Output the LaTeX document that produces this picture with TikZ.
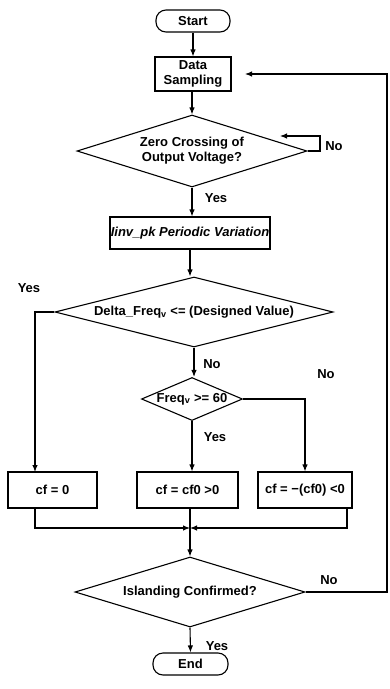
\documentclass[tikz,border=0pt]{standalone}
\usepackage{fontspec}
\setmainfont{Liberation Sans}
\usetikzlibrary{shapes.geometric,arrows.meta}
\begin{document}
\begin{tikzpicture}[x=1pt,y=-1pt,
  every node/.style={font=\bfseries\fontsize{13}{15}\selectfont},
  ln/.style={line width=1.1pt},
  arr/.style={ln,-{Latex[length=7pt,width=5.5pt]}},
  term/.style={draw,ln,rectangle,rounded corners=10pt,minimum width=74pt,minimum height=22pt,inner sep=0pt},
  procbox/.style={draw,ln,rectangle,inner sep=0pt,align=center},
  dec/.style={draw,ln,diamond,inner sep=0pt,align=center},
  lbl/.style={inner sep=0pt}
]
\useasboundingbox (0,0) rectangle (390,689);
\fill[white] (0,0) rectangle (390,689);

% nodes
\node[term] (start) at (193,21) {Start};
\node[procbox,minimum width=76pt,minimum height=34pt] (ds) at (193,74) {Data\\Sampling};
\node[dec,minimum width=230pt,minimum height=72pt,aspect=3.2] (d1) at (192,151) {Zero Crossing of\\Output Voltage?};
\node[procbox,minimum width=160pt,minimum height=32pt] (iinv) at (190,233) {\itshape Iinv\_pk Periodic Variation};
\node[dec,minimum width=278pt,minimum height=70pt,aspect=4] (d2) at (194,312) {Delta\_Freq\textsubscript{v} <= (Designed Value)};
\node[dec,minimum width=101pt,minimum height=43pt,aspect=2.35] (d3) at (192,399) {\makebox[0pt]{Freq\textsubscript{v} >= 60}};
\node[procbox,minimum width=89pt,minimum height=36pt] (b1) at (52.5,490) {cf = 0};
\node[procbox,minimum width=101pt,minimum height=36pt] (b2) at (187.5,490) {cf = cf0 >0};
\node[procbox,minimum width=94pt,minimum height=36pt] (b3) at (305,490) {cf = −(cf0) <0};
\node[dec,minimum width=230pt,minimum height=70pt,aspect=3.3] (d4) at (190,592) {Islanding Confirmed?};
\node[term,minimum width=75pt] (end) at (190.5,664) {End};

% helper coordinates
\coordinate (loopend) at (280,136);
\coordinate (loopx) at (320,151);
\coordinate (leftx) at (35,472);
\coordinate (b3out) at (347,508);
\coordinate (junc) at (190,528);
\coordinate (rightx) at (387,592);
\coordinate (fb) at (245,74);

% labels
\node[lbl] (l1) at (334,146) {No};
\node[lbl] (l2) at (216,198) {Yes};
\node[lbl] (l3) at (29,288) {Yes};
\node[lbl] (l4) at (212,364) {No};
\node[lbl] (l5) at (326,374) {No};
\node[lbl] (l6) at (215,437) {Yes};
\node[lbl] (l7) at (329,580) {No};
\node[lbl] (l8) at (217,646) {Yes};

% connectors
\draw[arr] (start.south) -- (ds.north);
\draw[arr] (ds.south -| d1.north) -- (d1.north);
\draw[arr] (d1.east) -- (loopx) |- (loopend);
\draw[arr] (d1.south) -- (d1.south |- iinv.north);
\draw[arr] (iinv.south) -- (iinv.south |- d2.north);
\draw[arr] (d2.west) -| (leftx);
\draw[arr] (d2.south) -- (d2.south |- d3.north);
\draw[arr] (d3.south) -- (d3.south |- b2.north);
\draw[arr] (d3.east) -| (b3.north);
\draw[arr] (leftx |- b1.south) |- (junc);
\draw[arr] (b3out) |- (junc);
\draw[ln] (junc |- b2.south) -- (junc);
\draw[arr] (junc) -- (d4.north);
\draw[arr] (d4.east) -- (rightx) |- (fb);
\draw[arr] (d4.south) -- (end.north);
\end{tikzpicture}
\end{document}
